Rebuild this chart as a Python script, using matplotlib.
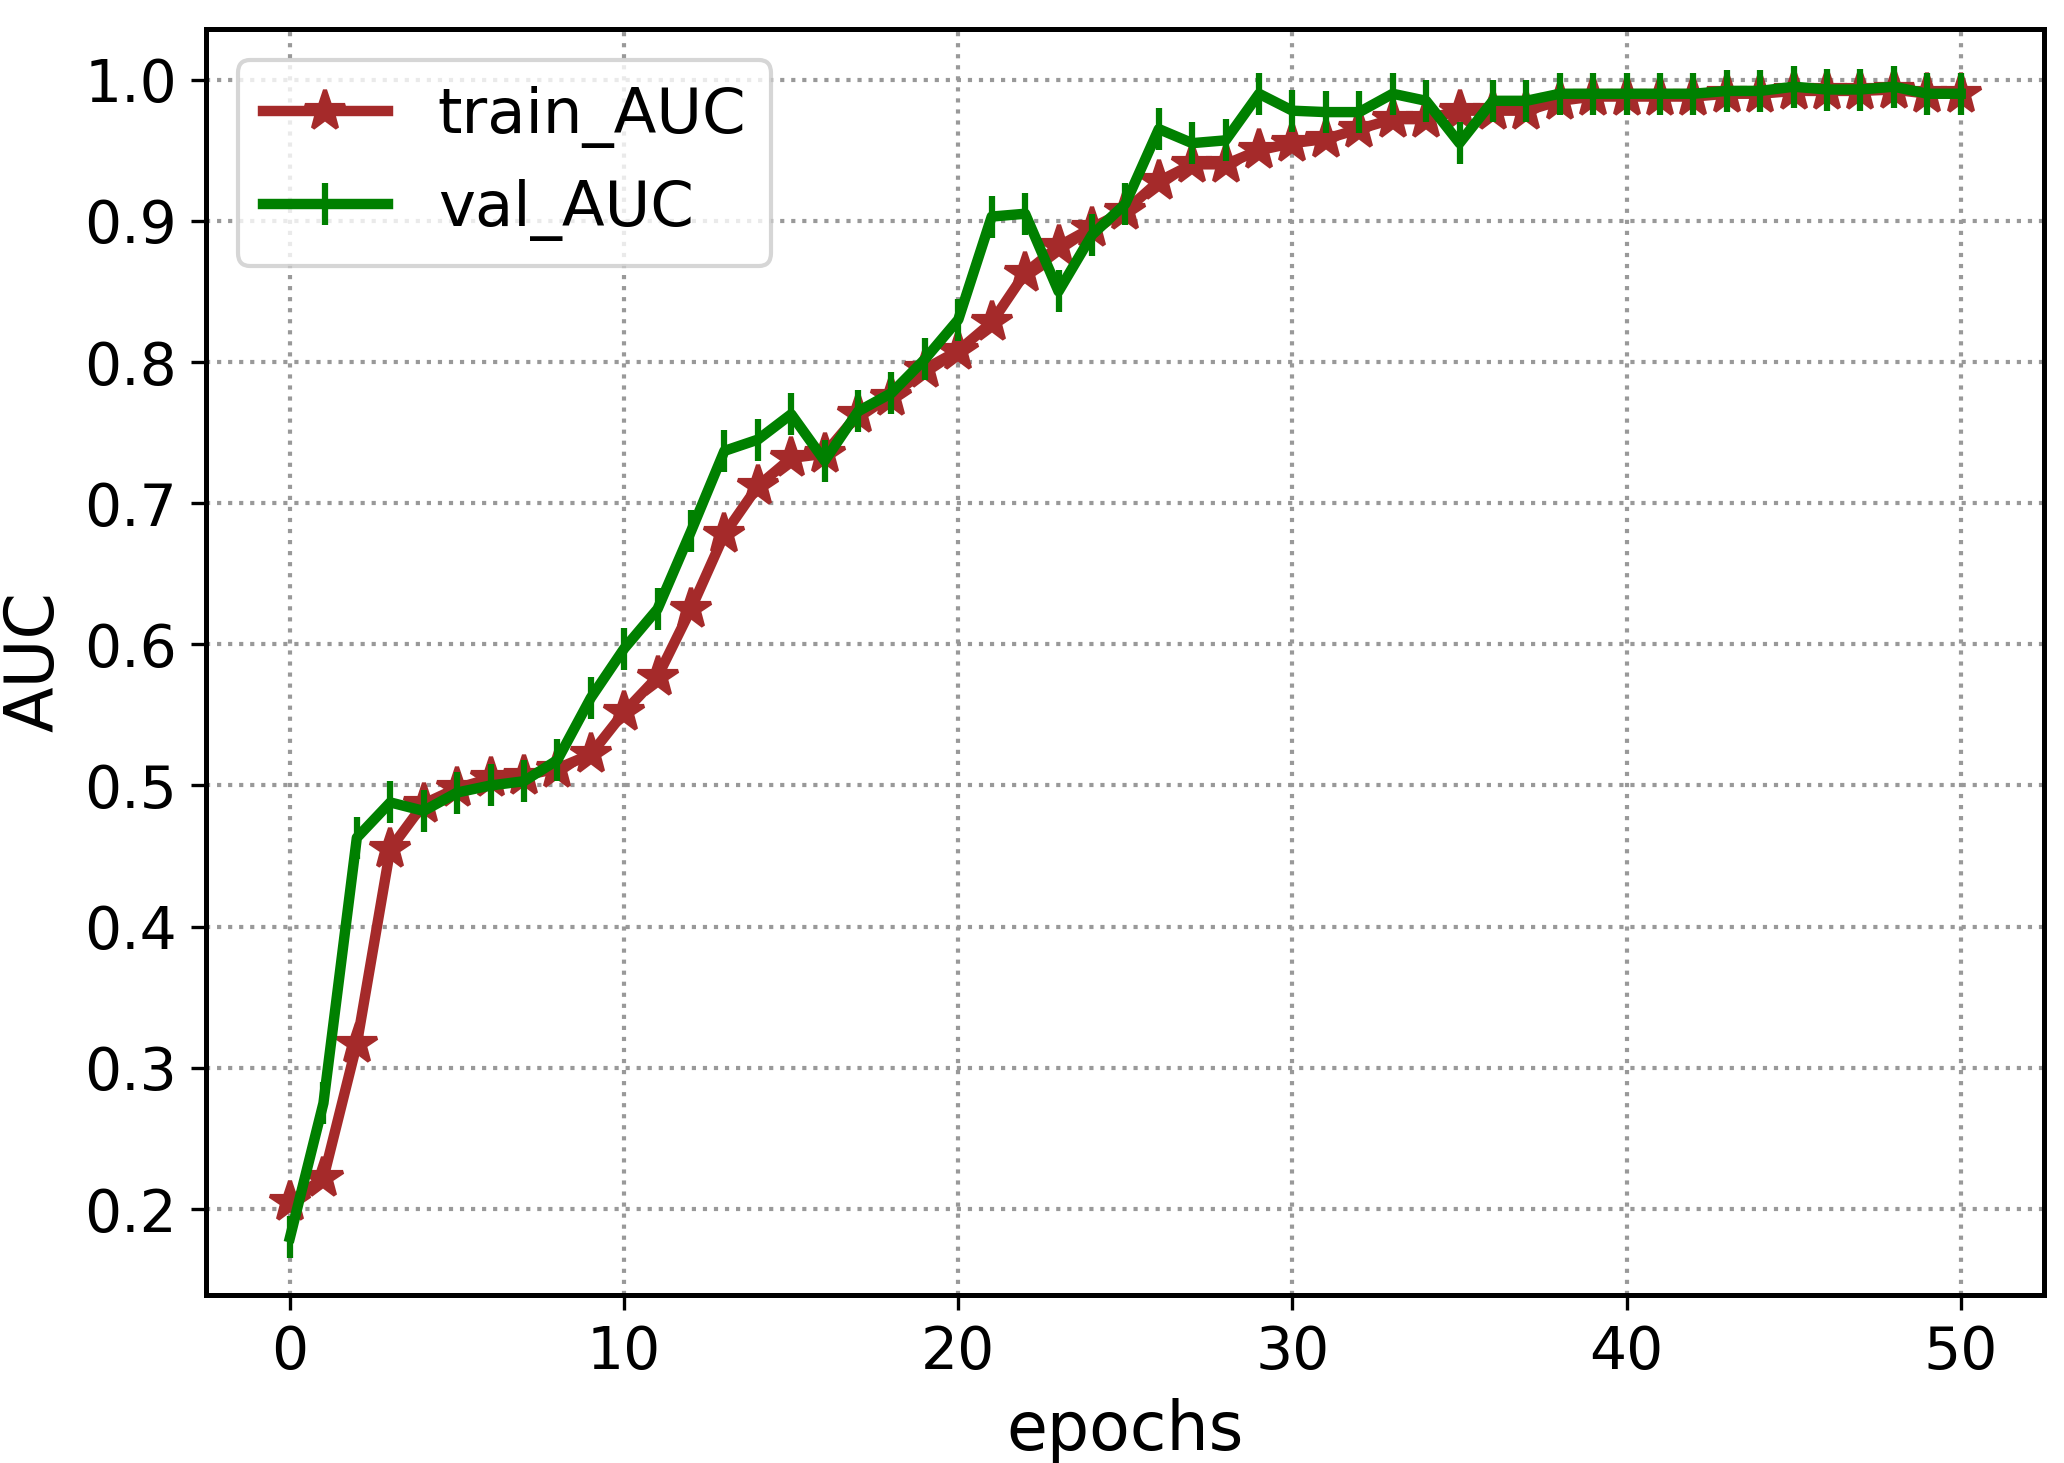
import matplotlib
matplotlib.use("Agg")
import matplotlib.pyplot as plt
import numpy as np

epochs = list(range(51))
train_auc = [0.205,0.222,0.317,0.455,0.487,0.498,0.505,0.507,0.512,0.522,0.552,0.577,0.625,0.678,0.712,0.732,0.735,0.763,0.775,0.795,0.808,0.828,0.863,0.882,0.895,0.907,0.928,0.940,0.940,0.950,0.955,0.958,0.965,0.972,0.972,0.978,0.978,0.978,0.985,0.988,0.988,0.988,0.988,0.990,0.990,0.992,0.992,0.992,0.993,0.990,0.990]
val_auc = [0.18,0.275,0.463,0.488,0.482,0.495,0.500,0.503,0.518,0.562,0.597,0.625,0.680,0.737,0.745,0.763,0.730,0.765,0.778,0.802,0.830,0.903,0.905,0.850,0.890,0.912,0.965,0.955,0.957,0.990,0.978,0.977,0.977,0.990,0.985,0.955,0.985,0.985,0.990,0.990,0.990,0.990,0.990,0.992,0.992,0.995,0.993,0.993,0.995,0.990,0.990]

fig, ax = plt.subplots(figsize=(6.883, 4.877), dpi=300)
ax.plot(epochs, train_auc, color='#a52a2a', marker='*', markersize=10, linewidth=2.5, label='train_AUC')
ax.plot(epochs, val_auc, color='green', marker='|', markersize=10, markeredgewidth=1.5, linewidth=2.5, label='val_AUC')
ax.set_xlabel('epochs', fontsize=16)
ax.set_ylabel('AUC', fontsize=16)
ax.tick_params(labelsize=14)
ax.set_xticks([0,10,20,30,40,50])
ax.grid(True, linestyle=':', color='#999999', linewidth=1)
ax.legend(fontsize=15, loc='upper left', handlelength=2)
for s in ax.spines.values():
    s.set_linewidth(1.2)
fig.subplots_adjust(left=0.1, right=0.99, top=0.98, bottom=0.115)
fig.savefig('out.png')
